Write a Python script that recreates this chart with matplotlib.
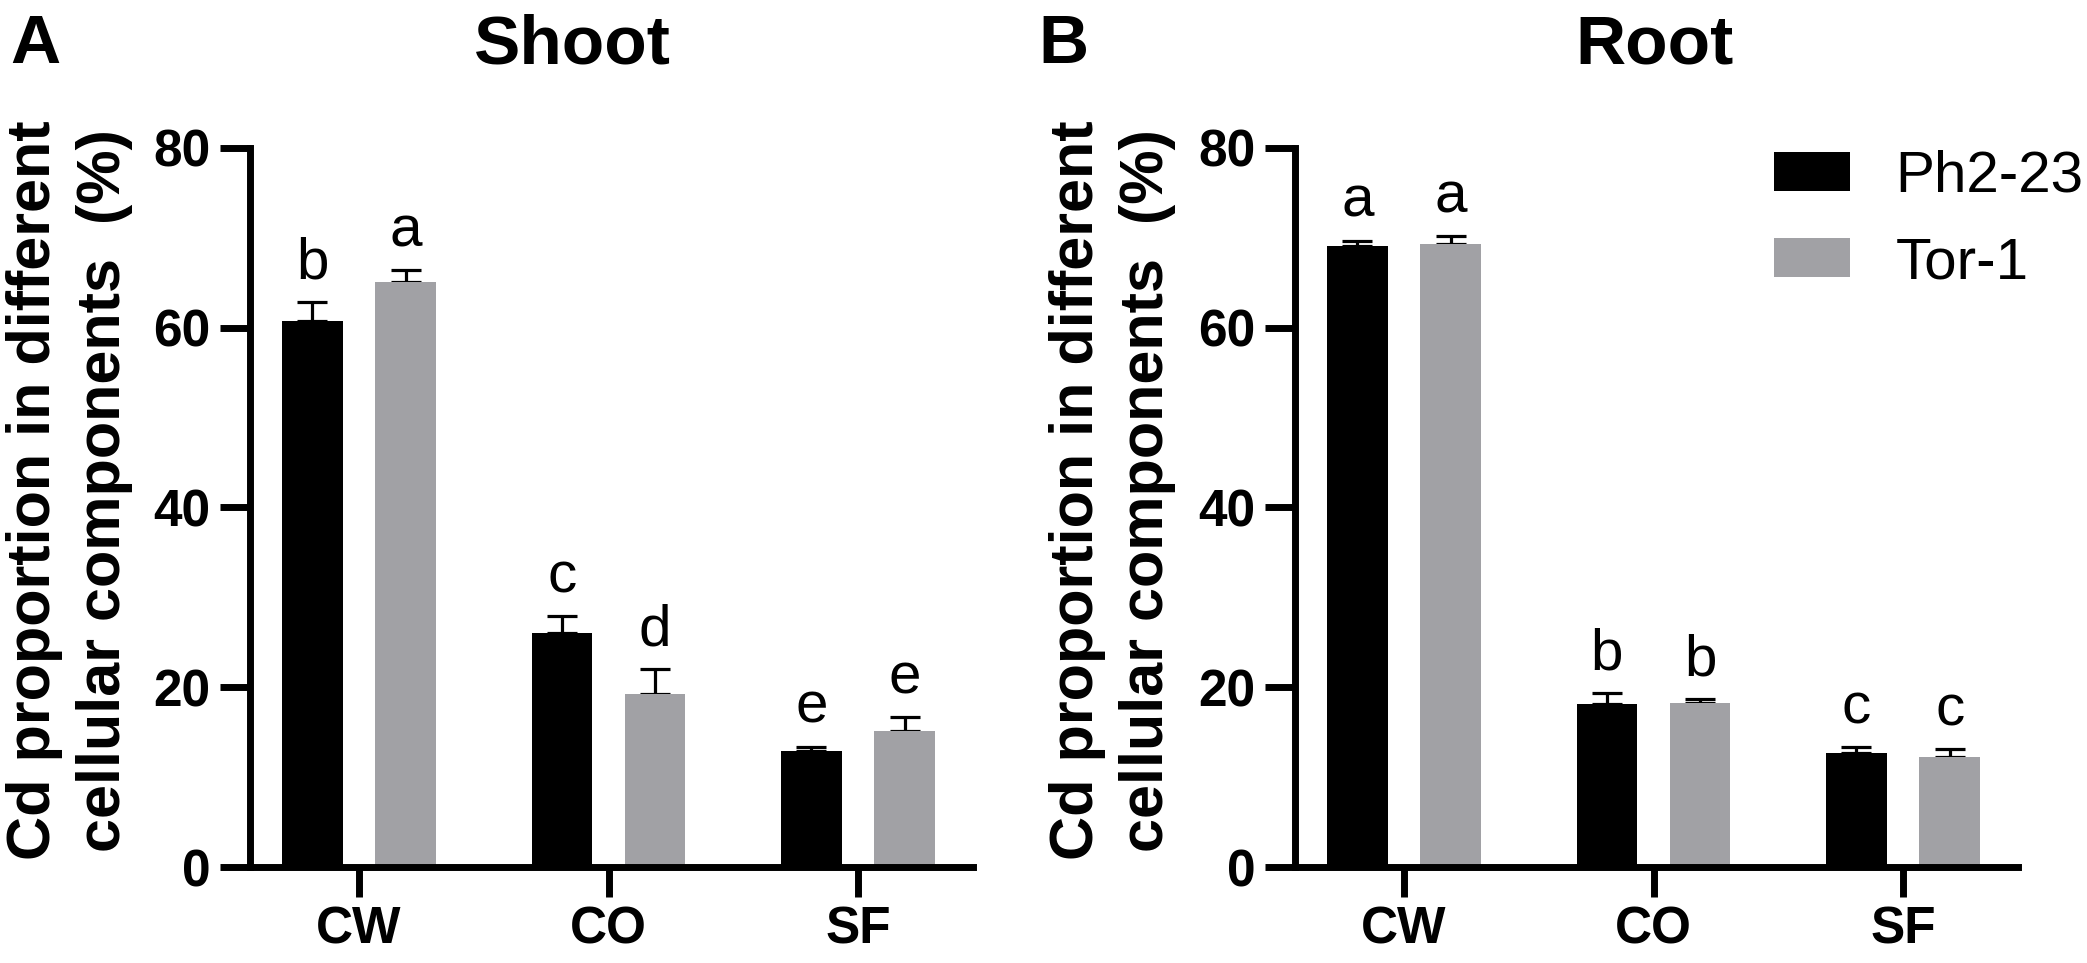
import matplotlib
matplotlib.use("Agg")
import matplotlib.pyplot as plt
from matplotlib.patches import Patch
import numpy as np

plt.rcParams["font.family"] = ["Liberation Sans", "DejaVu Sans"]

# ── data ───────────────────────────────────────────────
components = ["CW", "CO", "SF"]
lines = ["Ph2-23", "Tor-1"]

shoot_ph = [60.7, 26.0, 12.9]
shoot_ph_err = [2.2, 1.9, 0.5]
shoot_tor = [65.1, 19.3, 15.1]
shoot_tor_err = [1.3, 2.7, 1.6]
shoot_letters_ph = ["b", "c", "e"]
shoot_letters_tor = ["a", "d", "e"]

root_ph = [69.1, 18.1, 12.7]
root_ph_err = [0.6, 1.3, 0.6]
root_tor = [69.3, 18.3, 12.2]
root_tor_err = [0.9, 0.4, 0.9]
root_letters_ph = ["a", "b", "c"]
root_letters_tor = ["a", "b", "c"]

yticks = [0, 20, 40, 60, 80]

BLACK = "#000000"
GREY = "#a1a1a5"
W, H = 2087, 963
LW = 5.0
BAR_W = 0.242
OFF = 0.187


def draw_panel(ax, ph, ph_err, tor, tor_err, let_ph, let_tor):
    x = np.arange(len(components))
    for xs, vals, errs, col, lets in [
        (x - OFF, ph, ph_err, BLACK, let_ph),
        (x + OFF, tor, tor_err, GREY, let_tor),
    ]:
        ax.bar(xs, vals, width=BAR_W, color=col, zorder=2)
        ax.errorbar(xs, vals, yerr=[np.zeros(len(vals)), errs], fmt="none",
                    ecolor="black", elinewidth=2.3, capsize=10.5, capthick=2.3,
                    zorder=1)
        for xi, v, e, t in zip(xs, vals, errs, lets):
            ax.annotate(t, (xi, v + e), xytext=(0, 17), textcoords="offset points",
                        ha="center", va="baseline", fontsize=42)

    ax.set_xlim(-0.437, 2.461)
    ax.set_ylim(0, 80)
    ax.set_xticks(x)
    ax.set_xticklabels(components, fontsize=37, fontweight="bold")
    ax.set_yticks(yticks)
    ax.set_yticklabels([str(v) for v in yticks], fontsize=37, fontweight="bold")
    for side in ["top", "right"]:
        ax.spines[side].set_visible(False)
    for side in ["left", "bottom"]:
        ax.spines[side].set_linewidth(LW)
    ax.tick_params(axis="both", length=21.6, width=LW, direction="out")
    ax.tick_params(axis="y", pad=7)
    ax.tick_params(axis="x", pad=6)


fig = plt.figure(figsize=(W / 100, H / 100), dpi=100)
ax1 = fig.add_axes([250 / W, 1 - 867 / H, 723 / W, 719 / H])
ax2 = fig.add_axes([1295 / W, 1 - 867 / H, 723 / W, 719 / H])

draw_panel(ax1, shoot_ph, shoot_ph_err, shoot_tor, shoot_tor_err,
           shoot_letters_ph, shoot_letters_tor)
draw_panel(ax2, root_ph, root_ph_err, root_tor, root_tor_err,
           root_letters_ph, root_letters_tor)

# panel letters and titles
fig.text(10 / W, 1 - 63 / H, "A", fontsize=50, fontweight="bold", ha="left", va="baseline")
fig.text(1038 / W, 1 - 63 / H, "B", fontsize=50, fontweight="bold", ha="left", va="baseline")
fig.text(572 / W, 1 - 63 / H, "Shoot", fontsize=50, fontweight="bold", ha="center", va="baseline")
fig.text(1655 / W, 1 - 63 / H, "Root", fontsize=50, fontweight="bold", ha="center", va="baseline")

# y labels (two lines each, drawn separately to control spacing)
ylab1 = "Cd proportion in different"
ylab2 = "cellular components  (%)"
for dx in (0, 1043):
    fig.text((50 + dx) / W, 0.491, ylab1, rotation=90, rotation_mode="anchor",
             ha="center", va="baseline", fontsize=44, fontweight="bold")
    fig.text((120 + dx) / W, 0.491, ylab2, rotation=90, rotation_mode="anchor",
             ha="center", va="baseline", fontsize=44, fontweight="bold")

handles = [Patch(facecolor=BLACK), Patch(facecolor=GREY)]
fig.legend(handles, lines, loc="upper left", bbox_to_anchor=(1774 / W, 1 - 150 / H),
           frameon=False, fontsize=42, handlelength=1.3, handleheight=0.66,
           handletextpad=0.78, labelspacing=0.55, borderpad=0, borderaxespad=0)

fig.savefig("out.png", dpi=100)
